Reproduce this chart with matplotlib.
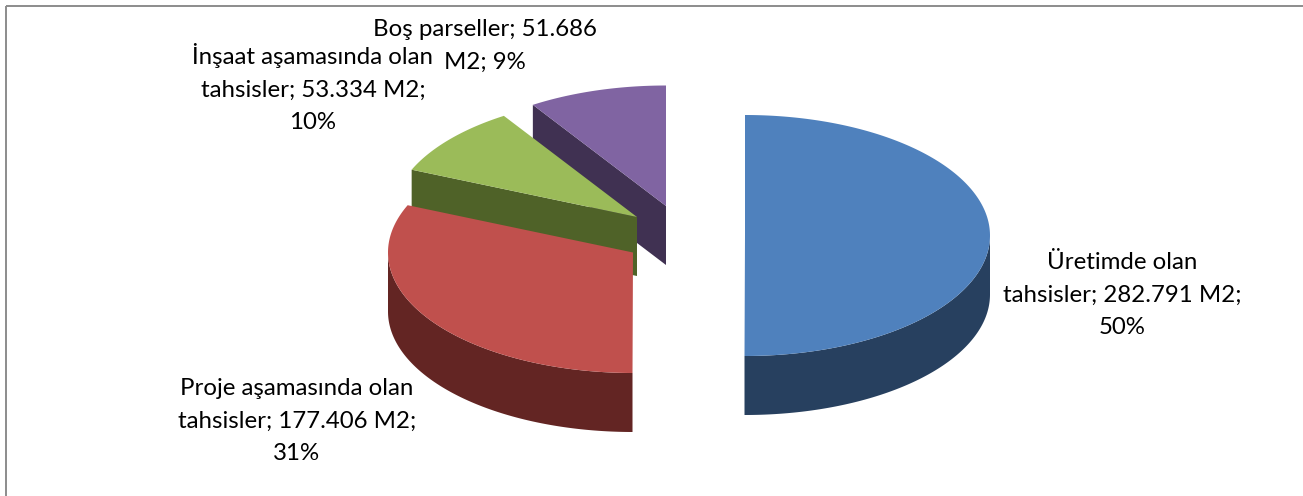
import numpy as np
import matplotlib
matplotlib.use('Agg')
import matplotlib.pyplot as plt
from matplotlib.patches import Polygon, Rectangle

# Slice data, clockwise from 12 o'clock
values = [282791, 177406, 53334, 51686]
labels = [
    'Üretimde olan\ntahsisler; 282.791 M2;\n50%',
    'Proje aşamasında olan\ntahsisler; 177.406 M2;\n31%',
    'İnşaat aşamasında olan\ntahsisler; 53.334 M2;\n10%',
    'Boş parseller; 51.686\nM2; 9%',
]
top_colors = ['#4F81BD', '#C0504D', '#9BBB59', '#8064A2']
side_colors = ['#27405F', '#632523', '#4F6228', '#403152']

# Exploded centres and label anchors, in pixels
centers = [(745, 235.5), (633, 252.5), (637, 217), (666, 206)]
label_pos = [(1122, 295), (297, 421), (313, 88), (485, 46)]
rx, ry, depth = 245, 120.5, 59

fig = plt.figure(figsize=(13.03, 4.96), dpi=100)
ax = fig.add_axes([0, 0, 1, 1])
ax.set_xlim(0, 1303)
ax.set_ylim(496, 0)
ax.axis('off')

# Chart frame
ax.add_patch(Rectangle((5.5, 5.5), 1320, 520, fill=False, edgecolor='#8C8C8C', linewidth=1.4))


def rim(cx, cy, a0, a1):
    t = np.radians(np.linspace(a0, a1, 200))
    return np.column_stack([cx + rx * np.sin(t), cy - ry * np.cos(t)])


# Start and end angle of each slice
ends = 360 * np.cumsum(values) / np.sum(values)
starts = np.concatenate([[0], ends[:-1]])

# Back slices first so the front ones cover them
for i in [3, 2, 1, 0]:
    cx, cy = centers[i]
    a0, a1 = starts[i], ends[i]

    # Outer wall, only the part on the front half of the ellipse
    w0, w1 = max(a0, 90), min(a1, 270)
    if w1 > w0:
        edge = rim(cx, cy, w0, w1)
        wall = np.vstack([edge, edge[::-1] + [0, depth]])
        ax.add_patch(Polygon(wall, color=side_colors[i], linewidth=0))

    # Cut face, visible when it looks towards the viewer
    if 270 < a0:
        p = rim(cx, cy, a0, a0)[0]
        face = [p, (cx, cy), (cx, cy + depth), (p[0], p[1] + depth)]
        ax.add_patch(Polygon(face, color=side_colors[i], linewidth=0))

    top = np.vstack([[(cx, cy)], rim(cx, cy, a0, a1)])
    ax.add_patch(Polygon(top, color=top_colors[i], linewidth=0))

for text, (x, y) in zip(labels, label_pos):
    ax.text(x, y, text, ha='center', va='center', family='Lato',
            fontsize=17.3, linespacing=1.66, color='black')

fig.savefig('out.png', dpi=100)
